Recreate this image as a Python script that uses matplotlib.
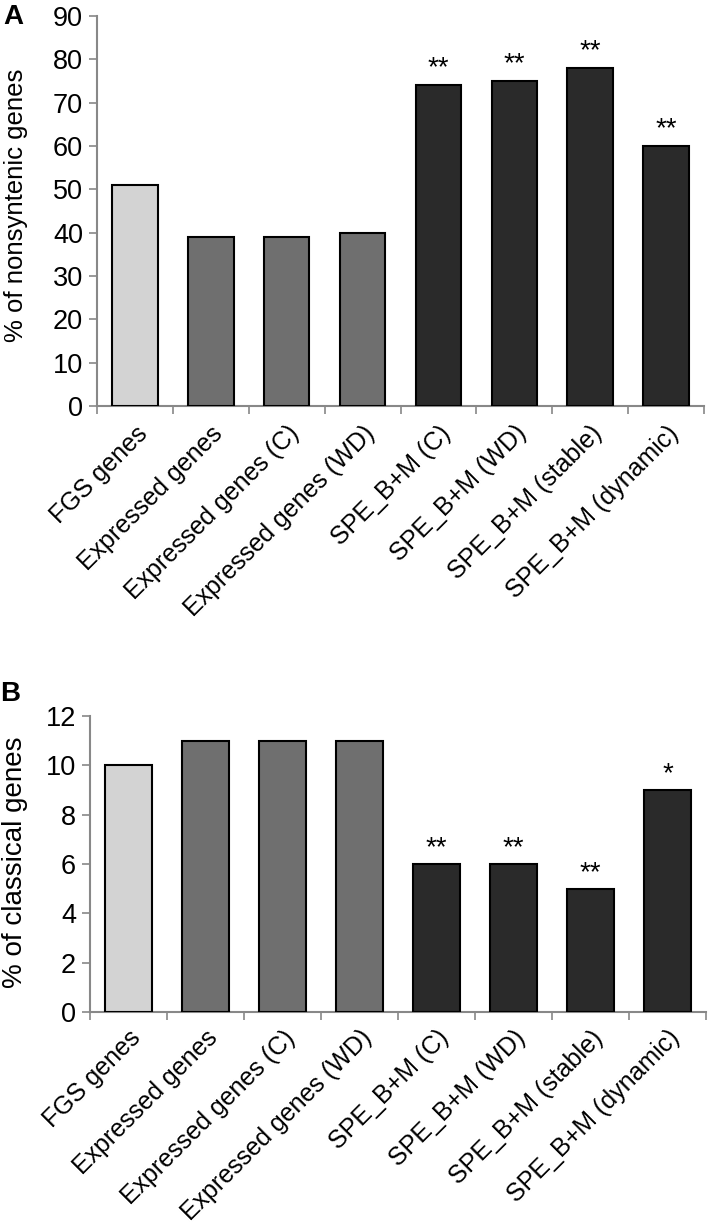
import matplotlib
matplotlib.use("Agg")
import matplotlib.pyplot as plt
import numpy as np

categories = ["FGS genes", "Expressed genes", "Expressed genes (C)", "Expressed genes (WD)",
              "SPE_B+M (C)", "SPE_B+M (WD)", "SPE_B+M (stable)", "SPE_B+M (dynamic)"]
nonsyntenic = [51, 39, 39, 40, 74, 75, 78, 60]
classical = [10, 11, 11, 11, 6, 6, 5, 9]
stars_a = ["", "", "", "", "**", "**", "**", "**"]
stars_b = ["", "", "", "", "**", "**", "**", "*"]
colors = ["#d3d3d3", "#6f6f6f", "#6f6f6f", "#6f6f6f", "#2a2a2a", "#2a2a2a", "#2a2a2a", "#2a2a2a"]

plt.rcParams['font.family'] = ['Liberation Sans', 'DejaVu Sans']

W, H = 714, 1227
fig = plt.figure(figsize=(W/100, H/100), dpi=100)
axA = fig.add_axes([97/W, 1-406/H, (704-97)/W, (406-16)/H])
axB = fig.add_axes([90/W, 1-1012/H, (706-90)/W, (1012-716)/H])

def draw(ax, vals, stars, ymax, step, ylabel, off, ylab_y, ylab_size, xpad):
    x = np.arange(len(vals))
    ax.bar(x, vals, width=0.6, color=colors, edgecolor="black", linewidth=1.5, zorder=3)
    for xi, v, s in zip(x, vals, stars):
        if s:
            ax.text(xi, v + off, s, ha="center", va="bottom", fontsize=20)
    ax.set_xlim(-0.5, len(vals) - 0.5)
    ax.set_ylim(0, ymax)
    ax.set_yticks(np.arange(0, ymax + 0.01, step))
    ax.set_xticks(x)
    ax.set_xticklabels(categories, rotation=45, ha="right", rotation_mode="anchor", fontsize=18)
    ax.tick_params(axis="x", length=0, pad=xpad)
    ax.set_xticks(np.arange(-0.5, len(vals), 1), minor=True)
    ax.tick_params(axis="x", which="minor", length=6, color="#888888", width=1.2, direction="out")
    ax.tick_params(axis="y", length=6, color="#888888", width=1.2, labelsize=19.5, pad=4)
    for sp in ["top", "right"]:
        ax.spines[sp].set_visible(False)
    for sp in ["left", "bottom"]:
        ax.spines[sp].set_color("#888888")
        ax.spines[sp].set_linewidth(1.5)
    ax.set_ylabel(ylabel, fontsize=ylab_size)
    ax.yaxis.set_label_coords(28/W, 1 - ylab_y/H, transform=fig.transFigure)

draw(axA, nonsyntenic, stars_a, 90, 10, "% of nonsyntenic genes", 0.9, 205, 18.5, 11)
draw(axB, classical, stars_b, 12, 2, "% of classical genes", 0.12, 862, 20, 10)

fig.text(3/W, 1-4/H, "A", fontsize=20, fontweight="bold", va="top", ha="left")
fig.text(0/W, 1-681/H, "B", fontsize=20, fontweight="bold", va="top", ha="left")

fig.savefig("out.png", dpi=100)
